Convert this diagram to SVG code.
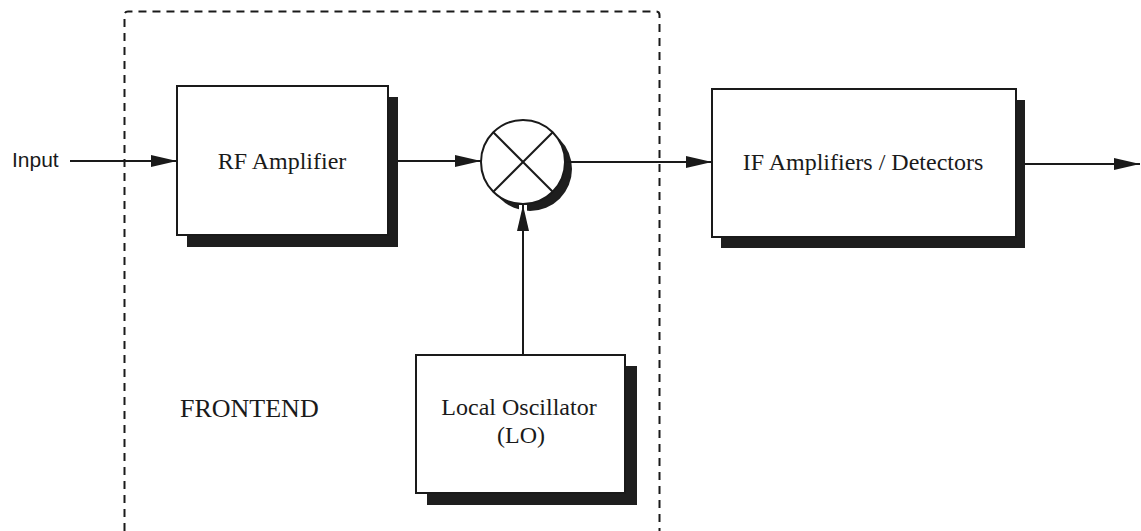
<svg xmlns="http://www.w3.org/2000/svg" width="1141" height="531" viewBox="0 0 1141 531">
  <style>
    .box { fill: #ffffff; stroke: #1a1a1a; stroke-width: 2; }
    .shadow { fill: #1e1e1e; }
    .line { stroke: #1a1a1a; stroke-width: 2; fill: none; }
    .lbl { font-family: "Liberation Serif", "Times New Roman", serif; font-size: 24px; fill: #1a1a1a; text-anchor: middle; }
    .frame { fill: none; stroke: #1a1a1a; stroke-width: 2; stroke-dasharray: 8 6; }
  </style>
  <defs>
    <marker id="arrow" markerUnits="userSpaceOnUse" markerWidth="26" markerHeight="12" refX="26" refY="6" orient="auto">
      <path d="M0,0 L26,6 L0,12 z" fill="#1a1a1a"/>
    </marker>
  </defs>
  <rect width="1141" height="531" fill="#ffffff"/>

  <g id="frontend-frame">
    <path class="frame" d="M124.5,531 V15 Q124.5,11.5 128,11.5 H656 Q659.5,11.5 659.5,15 V531"/>
    <text x="180" y="417" style="font-family: 'Liberation Serif', 'Times New Roman', serif; font-size: 26px; fill: #1a1a1a;">FRONTEND</text>
  </g>

  <g id="input-label">
    <text x="12" y="167" style="font-family: 'Liberation Sans', Arial, sans-serif; font-size: 21px; fill: #1a1a1a;">Input</text>
  </g>

  <g id="rf-amplifier">
    <rect class="shadow" x="187" y="97" width="211" height="150"/>
    <rect class="box" x="177" y="86" width="211" height="149"/>
    <text class="lbl" x="282" y="169">RF Amplifier</text>
  </g>

  <g id="mixer">
    <circle cx="530" cy="169" r="42" class="shadow"/>
    <circle cx="523" cy="162" r="42" class="box"/>
    <line class="line" x1="493.3" y1="132.3" x2="552.7" y2="191.7"/>
    <line class="line" x1="552.7" y1="132.3" x2="493.3" y2="191.7"/>
  </g>

  <g id="if-amplifiers">
    <rect class="shadow" x="721" y="100" width="304" height="148"/>
    <rect class="box" x="712" y="89" width="304" height="148"/>
    <text class="lbl" x="863" y="170">IF Amplifiers / Detectors</text>
  </g>

  <g id="local-oscillator">
    <rect class="shadow" x="427" y="366" width="210" height="139"/>
    <rect class="box" x="416" y="355" width="209" height="138"/>
    <text class="lbl" x="519" y="415">Local Oscillator</text>
    <text class="lbl" x="521" y="443">(LO)</text>
  </g>

  <g id="connectors">
    <line class="line" x1="70" y1="161" x2="177" y2="161" marker-end="url(#arrow)"/>
    <line class="line" x1="398" y1="161" x2="481" y2="161" marker-end="url(#arrow)"/>
    <line class="line" x1="565" y1="162" x2="712" y2="162" marker-end="url(#arrow)"/>
    <line class="line" x1="1025" y1="164" x2="1140" y2="164" marker-end="url(#arrow)"/>
    <line stroke="#ffffff" stroke-width="8" x1="523" y1="205" x2="523" y2="218"/>
    <line class="line" x1="523" y1="355" x2="523" y2="205" marker-end="url(#arrow)"/>
  </g>
</svg>
